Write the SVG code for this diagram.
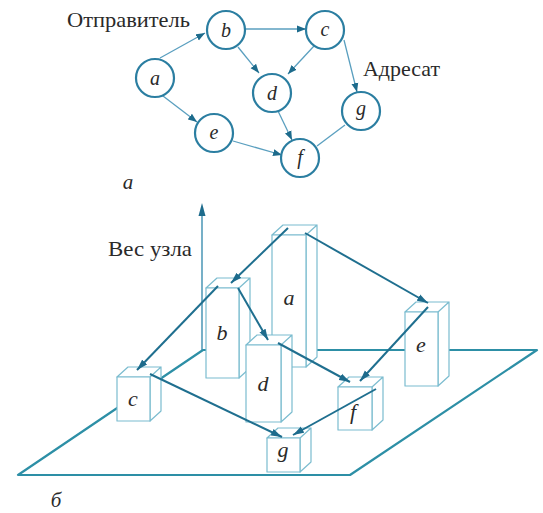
<svg xmlns="http://www.w3.org/2000/svg" width="543" height="513" viewBox="0 0 543 513">
<style>
.txt{fill:#2a2a2a;font-size:21px}
.it{font-style:italic;fill:#2a2a2a;text-anchor:middle}
.node{fill:#fff;stroke:#2b7ea1;stroke-width:2.2}
.edge{stroke:#5a9fbf;stroke-width:1.3;fill:none}
.plane{stroke:#2d8fa6;stroke-width:2.2;fill:none;stroke-linejoin:round}
.box{fill:#fff;stroke:#7bbccf;stroke-width:1.2;stroke-linejoin:round}
.arr{stroke:#1f6f8f;stroke-width:2;fill:none}
</style>
<defs>
<marker id="ah1" markerUnits="userSpaceOnUse" markerWidth="10" markerHeight="8" refX="9" refY="4" orient="auto"><path d="M0,0.5 L9,4 L0,7.5 Z" fill="#1d6b8c"/></marker>
<marker id="ah2" markerUnits="userSpaceOnUse" markerWidth="12" markerHeight="8" refX="11" refY="4" orient="auto"><path d="M0,0.5 L11,4 L0,7.5 Z" fill="#1d6b8c"/></marker>
</defs>
<g font-family="Liberation Serif, Times New Roman, serif">
<!-- Part a: graph -->
<g id="connectors-a">
<line class="edge" x1="160" y1="58" x2="205" y2="33" marker-end="url(#ah1)"/>
<line class="edge" x1="245" y1="29" x2="306" y2="29" marker-end="url(#ah1)"/>
<line class="edge" x1="238" y1="47" x2="259" y2="73" marker-end="url(#ah1)"/>
<line class="edge" x1="314" y1="46" x2="288" y2="74" marker-end="url(#ah1)"/>
<line class="edge" x1="344" y1="40" x2="357" y2="92" marker-end="url(#ah1)"/>
<line class="edge" x1="163" y1="96" x2="197" y2="122" marker-end="url(#ah1)"/>
<line class="edge" x1="278" y1="111" x2="292" y2="140" marker-end="url(#ah1)"/>
<line class="edge" x1="233" y1="141" x2="282" y2="155" marker-end="url(#ah1)"/>
<line class="edge" x1="345" y1="125" x2="317" y2="146"/>
</g>
<g id="node-a-top"><circle class="node" cx="155" cy="78" r="19"/><text class="it" x="155" y="85" font-size="20">a</text></g>
<g id="node-b-top"><circle class="node" cx="226" cy="30" r="19"/><text class="it" x="226" y="37" font-size="20">b</text></g>
<g id="node-c-top"><circle class="node" cx="325" cy="30" r="19"/><text class="it" x="325" y="36" font-size="20">c</text></g>
<g id="node-d-top"><circle class="node" cx="272" cy="93" r="19"/><text class="it" x="272" y="100" font-size="20">d</text></g>
<g id="node-e-top"><circle class="node" cx="214" cy="133" r="19"/><text class="it" x="214" y="139" font-size="20">e</text></g>
<g id="node-f-top"><circle class="node" cx="300" cy="158" r="19"/><text class="it" x="300" y="164" font-size="20">f</text></g>
<g id="node-g-top"><circle class="node" cx="361" cy="111" r="19"/><text class="it" x="361" y="115" font-size="20">g</text></g>
<text class="txt" x="67" y="27" textLength="123" lengthAdjust="spacingAndGlyphs">Отправитель</text>
<text class="txt" x="363" y="76" textLength="77" lengthAdjust="spacingAndGlyphs">Адресат</text>
<text class="it" x="128" y="189" font-size="21">a</text>

<!-- Part b: 3D -->
<g id="plane">
<path class="plane" d="M18,475 L350,475 L537,350 L203,350 Z"/>
<line x1="202" y1="350" x2="202" y2="208" stroke="#3d8fb0" stroke-width="1.4"/>
<path d="M202,203 L205.5,216 L198.5,216 Z" fill="#1d6b8c"/>
</g>
<text class="txt" x="108" y="256" textLength="84" lengthAdjust="spacingAndGlyphs">Вес узла</text>

<g id="box-a"><path class="box" d="M272,235 L283,225 L317,225 L306,235 Z M306,235 L317,225 L317,357 L306,367 Z"/><rect class="box" x="272" y="235" width="34" height="132"/><text class="it" x="289" y="305" font-size="22">a</text></g>
<g id="box-b"><path class="box" d="M206,288 L217,278 L250,278 L239,288 Z M239,288 L250,278 L250,368 L239,378 Z"/><rect class="box" x="206" y="288" width="33" height="90"/><text class="it" x="222" y="340" font-size="22">b</text></g>
<g id="box-e"><path class="box" d="M405,312 L416,302 L449,302 L438,312 Z M438,312 L449,302 L449,376 L438,386 Z"/><rect class="box" x="405" y="312" width="33" height="74"/><text class="it" x="421" y="352" font-size="22">e</text></g>
<g id="box-d"><path class="box" d="M246,345 L257,335 L292,335 L281,345 Z M281,345 L292,335 L292,412 L281,422 Z"/><rect class="box" x="246" y="345" width="35" height="77"/><text class="it" x="263" y="391" font-size="22">d</text></g>
<g id="box-f"><path class="box" d="M338,387 L349,377 L383,377 L372,387 Z M372,387 L383,377 L383,420 L372,430 Z"/><rect class="box" x="338" y="387" width="34" height="43"/><text class="it" x="353" y="419" font-size="22">f</text></g>
<g id="box-c"><path class="box" d="M117,377 L128,367 L161,367 L150,377 Z M150,377 L161,367 L161,411 L150,421 Z"/><rect class="box" x="117" y="377" width="33" height="44"/><text class="it" x="133" y="406" font-size="22">c</text></g>
<g id="box-g"><path class="box" d="M267,438 L278,428 L311,428 L300,438 Z M300,438 L311,428 L311,462 L300,472 Z"/><rect class="box" x="267" y="438" width="33" height="34"/><text class="it" x="283" y="457" font-size="22">g</text></g>

<g id="connectors-b">
<line class="arr" x1="288" y1="228" x2="231" y2="283" marker-end="url(#ah2)"/>
<line class="arr" x1="305" y1="233" x2="428" y2="303" marker-end="url(#ah2)"/>
<line class="arr" x1="218" y1="286" x2="137" y2="370" marker-end="url(#ah2)"/>
<line class="arr" x1="238" y1="288" x2="268" y2="340" marker-end="url(#ah2)"/>
<line class="arr" x1="278" y1="343" x2="350" y2="382" marker-end="url(#ah2)"/>
<line class="arr" x1="428" y1="307" x2="360" y2="381" marker-end="url(#ah2)"/>
<line class="arr" x1="150" y1="374" x2="282" y2="437" marker-end="url(#ah2)"/>
<line class="arr" x1="376" y1="389" x2="293" y2="435" marker-end="url(#ah2)"/>
</g>
<text class="it" x="56" y="507" font-size="21">б</text>
</g>
</svg>
